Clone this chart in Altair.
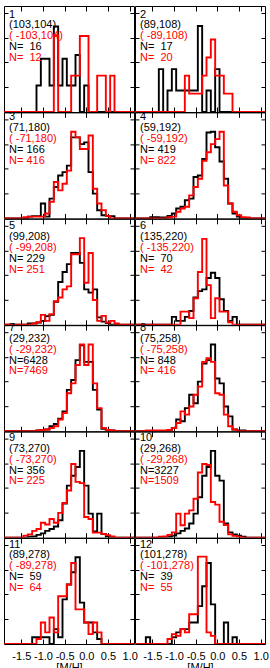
import altair as alt
import pandas as pd

# [M/H] bin centres (bin width 0.1 dex)
MH = [-1.9, -1.8, -1.7, -1.6, -1.5, -1.4, -1.3, -1.2, -1.1, -1.0, -0.9,
      -0.8, -0.7, -0.6, -0.5, -0.4, -0.3, -0.2, -0.1, 0.0, 0.1,
      0.2, 0.3, 0.4, 0.5, 0.6, 0.7, 0.8, 0.9, 1.0, 1.1]
X_TICKS = [-1.5, -1.0, -0.5, 0.0, 0.5, 1.0]
Y_TICKS = [1, 2, 3, 4]

# field labels
FIELD_ID = ["1", "2", "3", "4", "5", "6", "7", "8", "9", "10", "11", "12"]
POS_NORTH = ["(103,104)", "(89,108)", "(71,180)", "(59,192)", "(99,208)", "(135,220)",
             "(29,232)", "(75,258)", "(73,270)", "(29,268)", "(89,278)", "(101,278)"]
POS_SOUTH = ["( -103,104)", "( -89,108)", "( -71,180)", "( -59,192)", "( -99,208)",
             "( -135,220)", "( -29,232)", "( -75,258)", "( -73,270)", "( -29,268)",
             "( -89,278)", "( -101,278)"]
N_NORTH = [16, 17, 166, 419, 229, 70, 6428, 848, 356, 3227, 59, 39]
N_SOUTH = [12, 20, 416, 822, 251, 42, 7469, 416, 225, 1509, 64, 55]

# relative frequency per bin (arbitrary units), black = north, red = south
p1_north = [0, 0, 0, 0, 0, 0, 0, 0, 1.07, 2.15, 2.15, 1.07, 3.45, 1.07, 2.15, 1.07, 1.07, 2.3, 0, 1.07, 0, 0, 0, 0, 0, 0, 0, 0, 0, 0, 0]
p1_south = [0, 0, 0, 0, 0, 0, 0, 0, 0, 0, 0, 0, 3.1, 0, 0, 0, 1.47, 1.47, 3.07, 3.07, 0, 0, 1.47, 1.47, 0, 1.47, 0, 0, 0, 0, 0]
p2_north = [0, 0, 0, 0, 0, 0, 1.73, 0, 0.87, 1.73, 0.87, 0.87, 0.87, 0.87, 0.87, 3.47, 0, 0.87, 0, 1.73, 0, 0, 0, 0, 0, 0, 0, 0, 0, 0, 0]
p2_south = [0, 0, 0, 0, 0, 0, 0, 0, 0, 0, 0, 0, 1.47, 0.74, 0.74, 0.74, 1.47, 2.2, 2.93, 1.47, 1.47, 0.74, 0.74, 0, 0, 0, 0, 0, 0, 0, 0]
p3_north = [0, 0, 0, 0, 0, 0, 0.07, 0.09, 0.09, 0.6, 0.07, 0.8, 1.27, 1.73, 1.87, 2.13, 3.27, 3.27, 3.0, 3.07, 1.87, 1.0, 0.33, 0.13, 0.09, 0.09, 0, 0, 0, 0, 0]
p3_south = [0, 0, 0, 0, 0, 0.05, 0.07, 0.07, 0.07, 0.07, 0.2, 0.67, 1.47, 1.13, 1.4, 1.93, 3.5, 3.27, 2.8, 2.8, 3.35, 1.2, 0.6, 0.33, 0.09, 0, 0, 0, 0, 0, 0]
p4_north = [0, 0, 0, 0, 0.05, 0.05, 0.04, 0.04, 0.1, 0.2, 0.4, 0.47, 0.73, 0.8, 1.67, 1.73, 2.4, 3.47, 3.5, 2.87, 2.3, 1.6, 0.6, 0.2, 0.07, 0, 0, 0, 0, 0, 0]
p4_south = [0, 0, 0, 0, 0, 0, 0, 0, 0.05, 0.07, 0.27, 0.4, 0.47, 0.93, 1.27, 1.6, 2.33, 2.67, 3.0, 3.2, 3.5, 1.33, 0.6, 0.27, 0.13, 0.05, 0.04, 0, 0, 0, 0]
p5_north = [0, 0, 0, 0, 0, 0, 0.05, 0.05, 0.09, 0.16, 0.35, 0.4, 0.93, 1.73, 2.13, 2.45, 2.9, 2.9, 2.5, 1.43, 1.3, 1.43, 0.3, 0.13, 0.07, 0, 0, 0, 0, 0, 0]
p5_south = [0, 0, 0, 0, 0, 0, 0, 0.05, 0.1, 0.4, 0.16, 0.43, 0.95, 1.1, 1.43, 1.55, 2.85, 2.85, 3.5, 1.7, 2.9, 1.0, 0.16, 0.36, 0.09, 0.16, 0.05, 0, 0, 0, 0]
p6_north = [0, 0, 0, 0, 0, 0, 0, 0, 0, 0.32, 0.16, 0.16, 0.32, 0.56, 1.1, 1.36, 1.43, 1.89, 2.1, 1.89, 1.03, 0.56, 0.16, 0.32, 0, 0, 0, 0, 0, 0, 0]
p6_south = [0, 0, 0, 0, 0, 0, 0, 0, 0, 0, 0, 0.53, 0.53, 0.27, 1.07, 2.13, 3.47, 1.6, 0.27, 1.07, 0.53, 0.53, 0.1, 0, 0, 0, 0, 0, 0, 0, 0]
p7_north = [0, 0, 0, 0, 0, 0, 0, 0, 0.03, 0.05, 0.07, 0.2, 0.29, 0.5, 0.8, 1.67, 2.07, 2.87, 3.47, 2.8, 2.8, 1.67, 0.87, 0.1, 0.04, 0.03, 0, 0, 0, 0, 0]
p7_south = [0, 0, 0, 0, 0, 0, 0, 0, 0.03, 0.05, 0.07, 0.13, 0.2, 0.47, 0.73, 1.53, 1.93, 2.67, 3.5, 2.67, 3.5, 1.93, 0.93, 0.13, 0.05, 0.03, 0, 0, 0, 0, 0]
p8_north = [0, 0, 0, 0, 0, 0, 0, 0, 0.05, 0.13, 0.47, 0.4, 0.93, 1.47, 1.13, 2.0, 2.73, 2.87, 3.5, 2.13, 1.93, 1.0, 0.6, 0.07, 0.03, 0.03, 0, 0, 0, 0, 0]
p8_south = [0, 0, 0, 0.03, 0.03, 0.03, 0.03, 0.03, 0.05, 0.13, 0.33, 0.8, 0.67, 1.0, 1.47, 1.8, 2.8, 2.95, 2.8, 1.53, 1.47, 0.67, 0.2, 0.07, 0, 0, 0, 0, 0, 0, 0]
p9_north = [0, 0, 0, 0, 0, 0, 0.04, 0.05, 0.11, 0.17, 0.27, 0.35, 0.45, 0.7, 1.37, 2.1, 2.5, 2.85, 3.5, 2.1, 0.97, 0.25, 0.97, 0.15, 0.04, 0, 0, 0, 0, 0, 0]
p9_south = [0, 0, 0, 0, 0, 0.08, 0.13, 0.27, 0.35, 0.6, 0.53, 0.75, 0.6, 1.0, 1.4, 1.9, 2.97, 2.25, 2.2, 0.83, 0.75, 0.2, 0.2, 0.15, 0.1, 0.05, 0, 0, 0, 0, 0]
p10_north = [0, 0, 0, 0, 0, 0, 0, 0.03, 0.04, 0.08, 0.17, 0.27, 0.37, 0.57, 0.97, 1.63, 2.5, 2.85, 3.5, 2.5, 2.3, 0.57, 0.21, 0.13, 0.08, 0.04, 0, 0, 0, 0, 0]
p10_south = [0, 0, 0, 0, 0, 0, 0.04, 0.05, 0.11, 0.21, 0.97, 0.5, 0.97, 1.1, 1.57, 2.63, 2.97, 2.93, 1.44, 1.33, 0.64, 0.51, 0.13, 0.07, 0.04, 0, 0, 0, 0, 0, 0]
p11_north = [0, 0, 0, 0, 0, 0, 0, 0.27, 0.27, 0.27, 0.27, 0, 0.6, 0.27, 1.8, 2.4, 2.9, 3.5, 1.67, 0.87, 0.87, 0.47, 0.2, 0, 0, 0, 0, 0, 0, 0, 0]
p11_south = [0, 0, 0, 0, 0, 0, 0, 0, 0.2, 0.87, 0.47, 1.07, 0.47, 1.93, 1.93, 2.4, 3.27, 1.4, 1.4, 0.87, 0.4, 0.87, 0.47, 0, 0, 0, 0, 0, 0, 0, 0]
p12_north = [0, 0, 0, 0.27, 0, 0, 0, 0, 0, 0.27, 0.47, 0.6, 0.6, 0.87, 0.87, 1.53, 2.33, 3.27, 1.6, 0, 0, 0.87, 0, 0.27, 0, 0, 0, 0, 0, 0, 0]
p12_south = [0, 0, 0, 0, 0, 0, 0, 0, 0.2, 0.4, 0.33, 0.6, 0.47, 1.2, 1.2, 3.53, 3.53, 0.47, 0.33, 0, 0, 0, 0, 0, 0, 0, 0, 0, 0, 0, 0]

NORTH = [p1_north, p2_north, p3_north, p4_north, p5_north, p6_north,
         p7_north, p8_north, p9_north, p10_north, p11_north, p12_north]
SOUTH = [p1_south, p2_south, p3_south, p4_south, p5_south, p6_south,
         p7_south, p8_south, p9_south, p10_south, p11_south, p12_south]

# vertical offset of the first label line in each panel
LABEL_TOP = [8.5, 8.5, 5, 5, 7.5, 7.5, 3, 3, 6.5, 6.5, 6.5, 6.5]
LINE_STEP = 10.8

BLACK = "#000000"
RED = "#ff0000"
FONT = "Liberation Sans"
W, H = 130, 106

x_scale = alt.Scale(domain=[-1.9, 1.1], nice=False, zero=False)
y_scale = alt.Scale(domain=[0, 4.28], nice=False, zero=True)


def fmt_n(n):
    s = str(n)
    return "N=" + "\u00a0" * (4 - len(s)) + s


def panel(i, bottom):
    df = pd.DataFrame({"mh": MH, "north": NORTH[i], "south": SOUTH[i]})
    x_bottom = alt.Axis(orient="bottom", values=X_TICKS, tickSize=5, offset=-5,
                        domain=False, grid=False, labels=bottom,
                        title="[M/H]" if bottom else None,
                        labelExpr="replace(format(datum.value, '.1f'), '\u2212', '-')",
                        labelPadding=6, labelOverlap=False, labelFlush=False,
                        titlePadding=0)
    x_top = alt.Axis(orient="top", values=X_TICKS, tickSize=5, offset=-5,
                     domain=False, grid=False, labels=False, title=None)
    y_left = alt.Axis(orient="left", values=Y_TICKS, tickSize=4, offset=-4,
                      domain=False, grid=False, labels=False, title=None)
    y_right = alt.Axis(orient="right", values=Y_TICKS, tickSize=4, offset=-4,
                       domain=False, grid=False, labels=False, title=None)

    north = alt.Chart(df).mark_line(interpolate="step", color=BLACK,
                                    strokeWidth=1.9, clip=True).encode(
        x=alt.X("mh:Q", scale=x_scale, axis=x_bottom),
        y=alt.Y("north:Q", scale=y_scale, axis=y_left),
    )
    south = alt.Chart(df).mark_line(interpolate="step", color=RED,
                                    strokeWidth=1.9, clip=True).encode(
        x=alt.X("mh:Q", scale=x_scale, axis=x_top),
        y=alt.Y("south:Q", scale=y_scale, axis=y_right),
    )

    lines = [(FIELD_ID[i], BLACK), (POS_NORTH[i], BLACK), (POS_SOUTH[i], RED),
             (fmt_n(N_NORTH[i]), BLACK), (fmt_n(N_SOUTH[i]), RED)]
    texts = []
    for j, (t, c) in enumerate(lines):
        texts.append(
            alt.Chart(alt.Data(values=[{"t": t}])).mark_text(
                align="left", baseline="middle", font=FONT, fontSize=11, color=c
            ).encode(
                x=alt.value(5),
                y=alt.value(LABEL_TOP[i] + j * LINE_STEP),
                text=alt.Text("t:N"),
            )
        )

    return alt.layer(north, south, *texts).resolve_axis(
        x="independent", y="independent"
    ).properties(width=W, height=H)


panels = [panel(i, i >= 10) for i in range(12)]

chart = alt.concat(*panels, columns=2, spacing={"row": 0.4, "column": 1},
                   bounds="flush").properties(
    padding={"left": 3, "top": 5, "right": 0, "bottom": 0},
    background="white",
).configure_view(
    stroke="black", strokeWidth=1
).configure_axis(
    labelFont=FONT, labelFontSize=11, labelColor="black",
    titleFont=FONT, titleFontSize=11, titleFontWeight="normal", titleColor="black",
    tickColor="black", tickWidth=1,
)

chart.save("out.html", embed_options={"renderer": "svg", "actions": False})
